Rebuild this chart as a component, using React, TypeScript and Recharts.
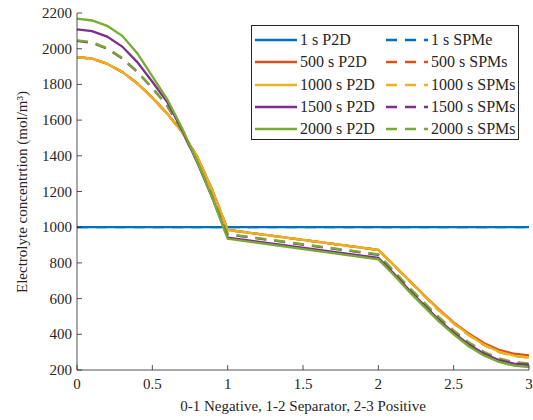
import { LineChart, Line, XAxis, YAxis } from 'recharts';

// position through the cell: 0-1 negative, 1-2 separator, 2-3 positive
const xs = [0, 0.1, 0.2, 0.3, 0.4, 0.5, 0.6, 0.7, 0.8, 0.9, 1, 2, 2.1, 2.2, 2.3, 2.4, 2.5, 2.6, 2.7, 2.8, 2.9, 3];

const p2d1 = [1000, 1000, 1000, 1000, 1000, 1000, 1000, 1000, 1000, 1000, 1000, 1000, 1000, 1000, 1000, 1000, 1000, 1000, 1000, 1000, 1000, 1000];
const spme1 = [1000, 1000, 1000, 1000, 1000, 1000, 1000, 1000, 1000, 1000, 1000, 1000, 1000, 1000, 1000, 1000, 1000, 1000, 1000, 1000, 1000, 1000];
const p2d500 = [1953, 1944, 1916, 1870, 1806, 1726, 1635, 1530, 1392, 1205, 985, 873, 791, 707, 623, 541, 467, 404, 351, 313, 291, 282];
const spm500 = [1953, 1944, 1916, 1870, 1806, 1726, 1635, 1530, 1392, 1205, 985, 872, 789, 704, 619, 536, 461, 396, 341, 302, 279, 269];
const p2d1000 = [1953, 1944, 1916, 1870, 1806, 1726, 1635, 1530, 1392, 1205, 985, 873, 790, 705, 620, 537, 462, 397, 342, 303, 280, 270];
const spm1000 = [1953, 1944, 1916, 1870, 1806, 1726, 1635, 1530, 1392, 1205, 985, 872, 789, 704, 619, 536, 461, 396, 341, 302, 279, 269];
const p2d1500 = [2108, 2098, 2068, 2012, 1925, 1815, 1700, 1540, 1360, 1160, 942, 828, 743, 652, 567, 483, 408, 343, 292, 256, 236, 230];
const spm1500 = [2044, 2033, 2000, 1945, 1869, 1780, 1678, 1533, 1364, 1166, 960, 845, 754, 662, 576, 491, 414, 347, 294, 257, 236, 229];
const p2d2000 = [2168, 2158, 2128, 2072, 1975, 1845, 1715, 1550, 1365, 1160, 935, 820, 735, 643, 558, 474, 399, 333, 282, 246, 224, 216];
const spm2000 = [2047, 2036, 2003, 1948, 1872, 1782, 1680, 1535, 1365, 1168, 962, 848, 758, 667, 582, 498, 422, 355, 302, 265, 244, 237];

const xTicks = [0, 0.5, 1, 1.5, 2, 2.5, 3];
const yTicks = [200, 400, 600, 800, 1000, 1200, 1400, 1600, 1800, 2000, 2200];

const INK = '#262626';
const FONT = '"Liberation Serif", "Times New Roman", serif';

const series = [
  { key: 'p2d1', name: '1 s P2D', color: '#0072BD', dashed: false, values: p2d1 },
  { key: 'spme1', name: '1 s SPMe', color: '#0072BD', dashed: true, values: spme1 },
  { key: 'p2d500', name: '500 s P2D', color: '#D95319', dashed: false, values: p2d500 },
  { key: 'spm500', name: '500 s SPMs', color: '#D95319', dashed: true, values: spm500 },
  { key: 'p2d1000', name: '1000 s P2D', color: '#EDB120', dashed: false, values: p2d1000 },
  { key: 'spm1000', name: '1000 s SPMs', color: '#EDB120', dashed: true, values: spm1000 },
  { key: 'p2d1500', name: '1500 s P2D', color: '#7E2F8E', dashed: false, values: p2d1500 },
  { key: 'spm1500', name: '1500 s SPMs', color: '#7E2F8E', dashed: true, values: spm1500 },
  { key: 'p2d2000', name: '2000 s P2D', color: '#77AC30', dashed: false, values: p2d2000 },
  { key: 'spm2000', name: '2000 s SPMs', color: '#77AC30', dashed: true, values: spm2000 },
];

// stacking order of the lines (first one ends up at the bottom)
const drawOrder = ['p2d1', 'spme1', 'spm500', 'spm1000', 'spm1500', 'p2d500', 'p2d1000', 'spm2000', 'p2d1500', 'p2d2000'];

const legendRows = [
  ['p2d1', 'spme1'],
  ['p2d500', 'spm500'],
  ['p2d1000', 'spm1000'],
  ['p2d1500', 'spm1500'],
  ['p2d2000', 'spm2000'],
];

const data = xs.map((x, i) => {
  const row: Record<string, number> = { x };
  series.forEach((s) => {
    row[s.key] = s.values[i];
  });
  return row;
});

const byKey = (k: string) => series.find((s) => s.key === k)!;

function BottomTick(props: any) {
  const { x, y, payload } = props;
  return (
    <g>
      <line x1={x} x2={x} y1={y} y2={y - 5} stroke={INK} strokeWidth={0.8} />
      <text x={x} y={y + 19} textAnchor="middle" fontSize={15} fill={INK} fontFamily={FONT}>
        {payload.value}
      </text>
    </g>
  );
}

function TopTick(props: any) {
  const { x, y } = props;
  return <line x1={x} x2={x} y1={y} y2={y + 5} stroke={INK} strokeWidth={0.8} />;
}

function LeftTick(props: any) {
  const { x, y, payload } = props;
  return (
    <g>
      <line x1={x} x2={x + 5} y1={y} y2={y} stroke={INK} strokeWidth={0.8} />
      <text x={x - 5} y={y + 5} textAnchor="end" fontSize={15} fill={INK} fontFamily={FONT}>
        {payload.value}
      </text>
    </g>
  );
}

function RightTick(props: any) {
  const { x, y } = props;
  return <line x1={x} x2={x - 5} y1={y} y2={y} stroke={INK} strokeWidth={0.8} />;
}

function LegendItem({ k }: { k: string }) {
  const s = byKey(k);
  return (
    <div style={{ display: 'flex', alignItems: 'center', height: 22 }}>
      <svg width={42} height={6} style={{ display: 'block' }}>
        <line
          x1={0}
          x2={42}
          y1={3}
          y2={3}
          stroke={s.color}
          strokeWidth={2.3}
          strokeDasharray={s.dashed ? '11 8' : undefined}
        />
      </svg>
      <span style={{ marginLeft: 3, whiteSpace: 'nowrap' }}>{s.name}</span>
    </div>
  );
}

export default function App() {
  return (
    <div style={{ position: 'absolute', left: 0, top: 0, width: 533, height: 420, background: '#fff' }}>
      <LineChart width={533} height={420} data={data} margin={{ top: 13, right: 4, bottom: 0, left: 0 }}>
        <XAxis
          dataKey="x"
          type="number"
          domain={[0, 3]}
          ticks={xTicks}
          interval={0}
          height={50}
          tickSize={0}
          tickMargin={0}
          tickLine={false}
          axisLine={{ stroke: INK, strokeWidth: 0.8 }}
          tick={(p: any) => <BottomTick {...p} />}
          label={{
            content: () => (
              <text x={303} y={411} textAnchor="middle" fontSize={15} fill={INK} fontFamily={FONT}>
                0-1 Negative, 1-2 Separator, 2-3 Positive
              </text>
            ),
          }}
        />
        <XAxis
          xAxisId="top"
          orientation="top"
          dataKey="x"
          type="number"
          domain={[0, 3]}
          ticks={xTicks}
          interval={0}
          height={0}
          tickSize={0}
          tickMargin={0}
          tickLine={false}
          axisLine={{ stroke: INK, strokeWidth: 0.8 }}
          tick={(p: any) => <TopTick {...p} />}
        />
        <YAxis
          type="number"
          domain={[200, 2200]}
          ticks={yTicks}
          interval={0}
          width={77}
          tickSize={0}
          tickMargin={0}
          tickLine={false}
          axisLine={{ stroke: INK, strokeWidth: 0.8 }}
          tick={(p: any) => <LeftTick {...p} />}
          label={{
            content: () => (
              <text
                x={27}
                y={192}
                transform="rotate(-90 27 192)"
                textAnchor="middle"
                fontSize={15}
                fill={INK}
                fontFamily={FONT}
              >
                Electrolyte concentrtion (mol/m³)
              </text>
            ),
          }}
        />
        <YAxis
          yAxisId="right"
          orientation="right"
          type="number"
          domain={[200, 2200]}
          ticks={yTicks}
          interval={0}
          width={0}
          tickSize={0}
          tickMargin={0}
          tickLine={false}
          axisLine={{ stroke: INK, strokeWidth: 0.8 }}
          tick={(p: any) => <RightTick {...p} />}
        />
        {drawOrder.map((k) => {
          const s = byKey(k);
          return (
            <Line
              key={k}
              type="linear"
              dataKey={k}
              stroke={s.color}
              strokeWidth={2.3}
              strokeDasharray={s.dashed ? '11 8' : undefined}
              dot={false}
              activeDot={false}
              isAnimationActive={false}
            />
          );
        })}
      </LineChart>
      <div
        style={{
          position: 'absolute',
          left: 251,
          top: 25,
          width: 268,
          height: 115,
          boxSizing: 'border-box',
          border: `1px solid ${INK}`,
          background: '#fff',
          fontFamily: FONT,
          fontSize: 16,
          color: INK,
          padding: '3px 0 0 3px',
        }}
      >
        {legendRows.map(([a, b]) => (
          <div key={a} style={{ display: 'flex', height: 22.3 }}>
            <div style={{ width: 131 }}>
              <LegendItem k={a} />
            </div>
            <LegendItem k={b} />
          </div>
        ))}
      </div>
    </div>
  );
}
